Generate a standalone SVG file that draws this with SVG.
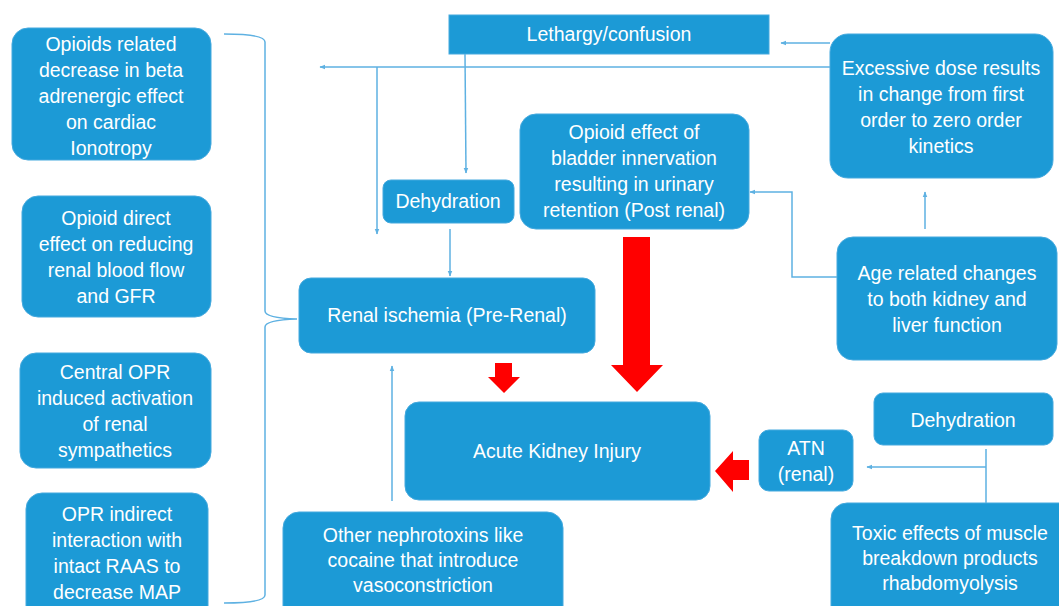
<svg xmlns="http://www.w3.org/2000/svg" width="1059" height="606" viewBox="0 0 1059 606">
<style>
.box{fill:#1c9ad6;stroke:#45a9de;stroke-width:1}
.t{font-family:"Liberation Sans",Arial,sans-serif;font-size:19.5px;fill:#ffffff;text-anchor:middle;dominant-baseline:central}
.c{fill:none;stroke:#5eb1e2;stroke-width:1.5}
.red{fill:#ff0000}
</style>
<defs>
<marker id="ah" viewBox="0 0 10 10" refX="9" refY="5" markerWidth="6" markerHeight="6" orient="auto" markerUnits="userSpaceOnUse">
<path d="M0,1 L10,5 L0,9 z" fill="#5eb1e2"/>
</marker>
</defs>
<rect width="1059" height="606" fill="#ffffff"/>

<g id="n1"><rect class="box" x="12" y="28" width="199" height="132" rx="16"/>
<text class="t" x="111" y="44">Opioids related</text><text class="t" x="111" y="70">decrease in beta</text><text class="t" x="111" y="96">adrenergic effect</text><text class="t" x="111" y="122">on cardiac</text><text class="t" x="111" y="148">Ionotropy</text></g>

<g id="n2"><rect class="box" x="22" y="196" width="189" height="121" rx="16"/>
<text class="t" x="116" y="218">Opioid direct</text><text class="t" x="116" y="244">effect on reducing</text><text class="t" x="116" y="270">renal blood flow</text><text class="t" x="116" y="296">and GFR</text></g>

<g id="n3"><rect class="box" x="20" y="353" width="191" height="115" rx="16"/>
<text class="t" x="115" y="372">Central OPR</text><text class="t" x="115" y="398">induced activation</text><text class="t" x="115" y="424">of renal</text><text class="t" x="115" y="450">sympathetics</text></g>

<g id="n4"><rect class="box" x="26" y="493" width="182" height="130" rx="16"/>
<text class="t" x="117" y="514">OPR indirect</text><text class="t" x="117" y="540">interaction with</text><text class="t" x="117" y="566">intact RAAS to</text><text class="t" x="117" y="592">decrease MAP</text></g>

<g id="lethargy"><rect class="box" x="449" y="15" width="320" height="39"/>
<text class="t" x="609" y="34">Lethargy/confusion</text></g>

<g id="dehyd1"><rect class="box" x="383" y="180" width="131" height="43" rx="8"/>
<text class="t" x="448" y="201">Dehydration</text></g>

<g id="bladder"><rect class="box" x="520" y="114" width="229" height="115" rx="16"/>
<text class="t" x="634" y="132">Opioid effect of</text><text class="t" x="634" y="158">bladder innervation</text><text class="t" x="634" y="184">resulting in urinary</text><text class="t" x="634" y="210">retention (Post renal)</text></g>

<g id="excess"><rect class="box" x="830" y="34" width="223" height="144" rx="18"/>
<text class="t" x="941" y="68">Excessive dose results</text><text class="t" x="941" y="94">in change from first</text><text class="t" x="941" y="120">order to zero order</text><text class="t" x="941" y="146">kinetics</text></g>

<g id="age"><rect class="box" x="837" y="237" width="220" height="123" rx="16"/>
<text class="t" x="947" y="273">Age related changes</text><text class="t" x="947" y="299">to both kidney and</text><text class="t" x="947" y="325">liver function</text></g>

<g id="ischemia"><rect class="box" x="299" y="278" width="296" height="75" rx="12"/>
<text class="t" x="447" y="315">Renal ischemia (Pre-Renal)</text></g>

<g id="aki"><rect class="box" x="405" y="402" width="305" height="98" rx="14"/>
<text class="t" x="557" y="451">Acute Kidney Injury</text></g>

<g id="atn"><rect class="box" x="759" y="430" width="94" height="61" rx="10"/>
<text class="t" x="806" y="448">ATN</text><text class="t" x="806" y="474">(renal)</text></g>

<g id="dehyd2"><rect class="box" x="874" y="393" width="179" height="52" rx="9"/>
<text class="t" x="963" y="420">Dehydration</text></g>

<g id="toxic"><rect class="box" x="831" y="503" width="250" height="120" rx="16"/>
<text class="t" x="950" y="533">Toxic effects of muscle</text><text class="t" x="950" y="558">breakdown products</text><text class="t" x="950" y="583">rhabdomyolysis</text></g>

<g id="nephro"><rect class="box" x="283" y="512" width="280" height="110" rx="16"/>
<text class="t" x="423" y="535">Other nephrotoxins like</text><text class="t" x="423" y="560">cocaine that introduce</text><text class="t" x="423" y="585">vasoconstriction</text></g>

<g id="connectors">
<path class="c" d="M224,34 Q265,34 265,42 L265,311 Q265,318 297,319 Q265,320 265,327 L265,595 Q265,603 224,603"/>
<path class="c" d="M830,67 L320,67" marker-end="url(#ah)"/>
<path class="c" d="M377,67 L377,234" marker-end="url(#ah)"/>
<path class="c" d="M465,54 L466,173" marker-end="url(#ah)"/>
<path class="c" d="M450,229 L450,276" marker-end="url(#ah)"/>
<path class="c" d="M830,43 L781,43" marker-end="url(#ah)"/>
<path class="c" d="M925,229 L925,192" marker-end="url(#ah)"/>
<path class="c" d="M837,277 L792,277 L792,192 L750,192" marker-end="url(#ah)"/>
<path class="c" d="M392,501 L392,366" marker-end="url(#ah)"/>
<path class="c" d="M986,449 L986,503 M986,467 L867,467" marker-end="url(#ah)"/>
<path class="red" d="M623,237 L650,237 L650,365 L663,365 L637,392 L611,365 L623,365 z"/>
<path class="red" d="M495,363 L512,363 L512,377 L520,377 L504,393 L488,377 L495,377 z"/>
<path class="red" d="M749,460 L749,480 L733,480 L733,492 L715,471 L733,451 L733,460 z"/>
</g>
</svg>
